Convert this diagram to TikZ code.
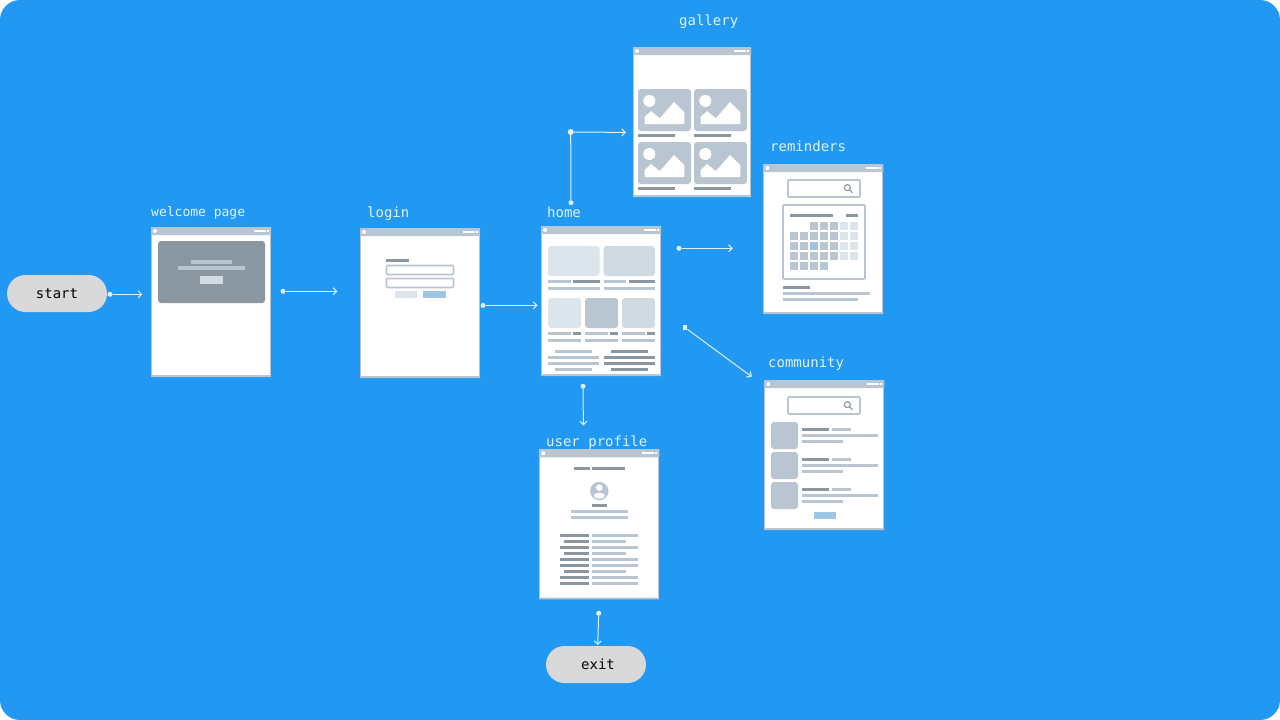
\documentclass[tikz,border=0pt]{standalone}
\usepackage{fontspec}
\setmonofont{DejaVu Sans Mono}
\usetikzlibrary{arrows.meta}

\definecolor{bgblue}{HTML}{2199F3}
\definecolor{wlight}{HTML}{DDE5EC}
\definecolor{wmid}{HTML}{CFDAE3}
\definecolor{wgrey}{HTML}{B9C5D0}
\definecolor{wdark}{HTML}{8A97A0}
\definecolor{wblue}{HTML}{9FC5E4}
\definecolor{wline}{HTML}{E0F1FD}

% window frame: name, width
\newcommand{\wfwin}[2]{
    \node[wframe, minimum width=#2pt-1pt] (#1) at (#2/2,75) {};
    \fill[wgrey, rounded corners=1pt] (0,0) rectangle (#2,8);
    \fill[wgrey, rounded corners=.5pt] (0,148.2) rectangle (#2,150);
    \fill[white] (4,4) circle (2);
    \fill[white] (#2-17,3.1) rectangle (#2-5,4.9);
    \fill[white] (#2-4,3.1) rectangle (#2-2,4.9);
}
% grey bar: colour, from x, to x, y
\newcommand{\wbar}[4]{ \fill[#1] (#2,#4) rectangle (#3,#4+3); }
% search box: left, top
\newcommand{\wfsearch}[2]{
    \draw[wbox] (#1,#2) rectangle (#1+72,#2+17);
    \draw[wdark, line width=1.1pt] (#1+59.4,#2+7.6) circle (3) (#1+61.6,#2+9.8) -- (#1+64.6,#2+12.8);
}
% picture tile: left, top
\newcommand{\wfimg}[2]{
    \fill[wgrey, rounded corners=3pt] (#1,#2) rectangle (#1+53,#2+42);
    \fill[white] (#1+11.3,#2+12) circle (6);
    \fill[white] (#1+6.7,#2+35) -- (#1+6.7,#2+27.7) -- (#1+13.3,#2+22) -- (#1+21.7,#2+29.3)
        -- (#1+36,#2+13) -- (#1+46.3,#2+23.3) -- (#1+46.3,#2+35) -- cycle;
}

\begin{document}
\begin{tikzpicture}[x=1pt, y=-1pt,
    wframe/.style={draw=wgrey, fill=white, line width=1pt, minimum height=149pt, inner sep=0pt},
    wbox/.style={draw=wgrey, fill=white, line width=1.7pt, rounded corners=1pt},
    wtile/.style={rounded corners=3pt},
    pill/.style={fill=black!15, rounded corners=18.5pt, minimum width=100pt, minimum height=37pt,
        inner sep=0pt, font=\ttfamily\fontsize{14}{16}\selectfont, text=black},
    lbl/.style={anchor=base west, inner sep=0pt, text=wline, font=\ttfamily\fontsize{14}{16}\selectfont},
    flow/.style={draw=wline, line width=1pt, -{Straight Barb[length=3.5pt,width=7pt]}},
    wire/.style={draw=wline, line width=1pt},
    pin/.style={circle, fill=wline, inner sep=0pt, minimum size=5pt},
    pinbox/.style={fill=wline, inner sep=0pt, minimum size=4.5pt}
    ]
    \useasboundingbox (0,0) rectangle (1280,720);
    \fill[white] (0,0) rectangle (1280,720);
    \fill[bgblue, rounded corners=20pt] (0,0) rectangle (1280,720);

    % start and exit
    \node[pill] (start) at (57,293.5) {start};
    \node[pill] (exit) at (596,664.5) {\hspace*{4pt}exit};

    % welcome page
    \node[lbl, font=\ttfamily\fontsize{13}{16}\selectfont] (lblwelcome) at (151,216) {welcome page};
    \begin{scope}[shift={(151,227)}]
        \wfwin{welcome}{120}
        \fill[wdark, wtile] (7,14) rectangle (114,76);
        \fill[wgrey] (40,33) rectangle (81,36.5);
        \fill[wgrey] (27,39) rectangle (94,42.5);
        \fill[wmid] (49,49) rectangle (72,57);
    \end{scope}

    % login
    \node[lbl] (lbllogin) at (367,217) {login};
    \begin{scope}[shift={(360,228)}]
        \wfwin{login}{120}
        \wbar{wdark}{26}{49}{31}
        \foreach \j in {37.5,50.5}
        { \draw[wbox] (26.5,\j) rectangle (93.5,\j+9); }
        \fill[wlight] (34.5,63) rectangle (57,70);
        \fill[wblue] (63,63) rectangle (86,70);
    \end{scope}

    % home
    \node[lbl] (lblhome) at (547,217) {home};
    \begin{scope}[shift={(541,226)}]
        \wfwin{home}{120}
        \fill[wlight, wtile] (7,20) rectangle (58.5,50);
        \fill[wmid, wtile] (62.5,20) rectangle (114,50);
        \wbar{wgrey}{7}{30}{54}
        \wbar{wdark}{32}{58.5}{54}
        \wbar{wgrey}{62.5}{85}{54}
        \wbar{wdark}{87.5}{114}{54}
        \wbar{wgrey}{7}{58.5}{61}
        \wbar{wgrey}{62.5}{114}{61}
        \fill[wlight, wtile] (7,72) rectangle (40,102);
        \fill[wgrey, wtile] (44,72) rectangle (77,102);
        \fill[wmid, wtile] (81,72) rectangle (114,102);
        \foreach \i in {7,44,81}
        {
          \wbar{wgrey}{\i}{\i+23}{106}
          \wbar{wdark}{\i+25}{\i+33}{106}
          \wbar{wgrey}{\i}{\i+33}{113}
        }
        \foreach \j in {124,142}
        { \wbar{wgrey}{14}{51}{\j} \wbar{wdark}{70}{107}{\j} }
        \foreach \j in {130,136}
        { \wbar{wgrey}{7}{58}{\j} \wbar{wdark}{63}{114}{\j} }
    \end{scope}

    % gallery
    \node[lbl] (lblgallery) at (679,25) {gallery};
    \begin{scope}[shift={(633,47)}]
        \wfwin{gallery}{118}
        \foreach \i in {5,61}
        {
          \foreach \j in {42,95}
          {
            \wfimg{\i}{\j}
            \wbar{wdark}{\i}{\i+37}{\j+45}
          }
        }
    \end{scope}

    % reminders
    \node[lbl] (lblreminders) at (770,151) {reminders};
    \begin{scope}[shift={(763.3,164)}]
        \wfwin{reminders}{120}
        \wfsearch{24.7}{16}
        \draw[wbox] (19.7,41) rectangle (101.7,115);
        \wbar{wdark}{26.7}{69.7}{50}
        \wbar{wdark}{82.7}{94.7}{50}
        \foreach \i in {2,3,4}
        { \fill[wgrey] (26.7+10*\i,58) rectangle +(8,8); }
        \foreach \j in {68,78,88}
        {
          \foreach \i in {0,...,4}
          { \fill[wgrey] (26.7+10*\i,\j) rectangle +(8,8); }
        }
        \foreach \j in {58,68,78,88}
        {
          \foreach \i in {5,6}
          { \fill[wlight] (26.7+10*\i,\j) rectangle +(8,8); }
        }
        \foreach \i in {0,...,3}
        { \fill[wgrey] (26.7+10*\i,98) rectangle +(8,8); }
        \fill[wblue] (46.7,78) rectangle +(8,8);
        \wbar{wdark}{19.7}{46.7}{122}
        \wbar{wgrey}{19.7}{106.7}{128}
        \wbar{wgrey}{19.7}{94.7}{134}
    \end{scope}

    % community
    \node[lbl] (lblcommunity) at (768,367) {community};
    \begin{scope}[shift={(764.3,380)}]
        \wfwin{community}{120}
        \wfsearch{23.7}{17}
        \foreach \j in {42,72,102}
        {
          \fill[wgrey, wtile] (6.7,\j) rectangle +(27,27);
          \wbar{wdark}{37.7}{64.7}{\j+6}
          \wbar{wgrey}{67.7}{86.7}{\j+6}
          \wbar{wgrey}{37.7}{113.7}{\j+12}
          \wbar{wgrey}{37.7}{78.7}{\j+18}
        }
        \fill[wblue] (49.4,132) rectangle (71.4,139);
    \end{scope}

    % user profile
    \node[lbl] (lblprofile) at (546,446) {user profile};
    \begin{scope}[shift={(539.3,449.3)}]
        \wfwin{profile}{120}
        \wbar{wdark}{34.7}{50.7}{17.7}
        \wbar{wdark}{52.7}{85.7}{17.7}
        \fill[wgrey] (60,41.7) circle (9.2);
        \begin{scope}
          \clip (60,41.7) circle (9.2);
          \fill[white] (60,38.4) circle (3.3);
          \fill[white] (60,46.4) ellipse (5.5 and 3);
        \end{scope}
        \wbar{wdark}{52.7}{67.7}{54.7}
        \wbar{wgrey}{31.7}{88.7}{60.7}
        \wbar{wgrey}{31.7}{88.7}{66.7}
        \foreach \j in {0,2,4,5,7,8}
        {
          \wbar{wdark}{20.7}{49.7}{84.7+6*\j}
          \wbar{wgrey}{52.7}{98.7}{84.7+6*\j}
        }
        \foreach \j in {1,3,6}
        {
          \wbar{wdark}{24.7}{49.7}{84.7+6*\j}
          \wbar{wgrey}{52.7}{86.7}{84.7+6*\j}
        }
    \end{scope}

    % connectors
    \node[pin] (pinstart) at (110,294.3) {};
    \path (142.3,294.3) coordinate (tipwelcome);
    \draw[flow] (pinstart) to (tipwelcome);

    \node[pin] (pinwelcome) at (283,291.3) {};
    \path (337.3,291.3) coordinate (tiplogin);
    \draw[flow] (pinwelcome) to (tiplogin);

    \node[pin] (pinlogin) at (483,305.4) {};
    \path (537.5,305.4) coordinate (tiphome);
    \draw[flow] (pinlogin) to (tiphome);

    \node[pin] (pinhome) at (571,202.7) {};
    \node[pin, minimum size=6pt] (pinbend) at (570.7,132) {};
    \path (626,132.4) coordinate (tipgallery);
    \draw[wire] (pinhome) to (pinbend);
    \draw[flow] (pinbend) to (tipgallery);

    \node[pin] (pinrem) at (679,248.3) {};
    \path (732.8,248.3) coordinate (tipreminders);
    \draw[flow] (pinrem) to (tipreminders);

    \node[pinbox] (pincomm) at (685,327.6) {};
    \path (751.7,376.7) coordinate (tipcommunity);
    \draw[flow] (pincomm) to (tipcommunity);

    \node[pin] (pinprof) at (583,386.3) {};
    \path (583.4,425.5) coordinate (tipprofile);
    \draw[flow] (pinprof) to (tipprofile);

    \node[pin] (pinexit) at (598.7,613.3) {};
    \path (597.7,645) coordinate (tipexit);
    \draw[flow] (pinexit) to (tipexit);

\end{tikzpicture}
\end{document}
